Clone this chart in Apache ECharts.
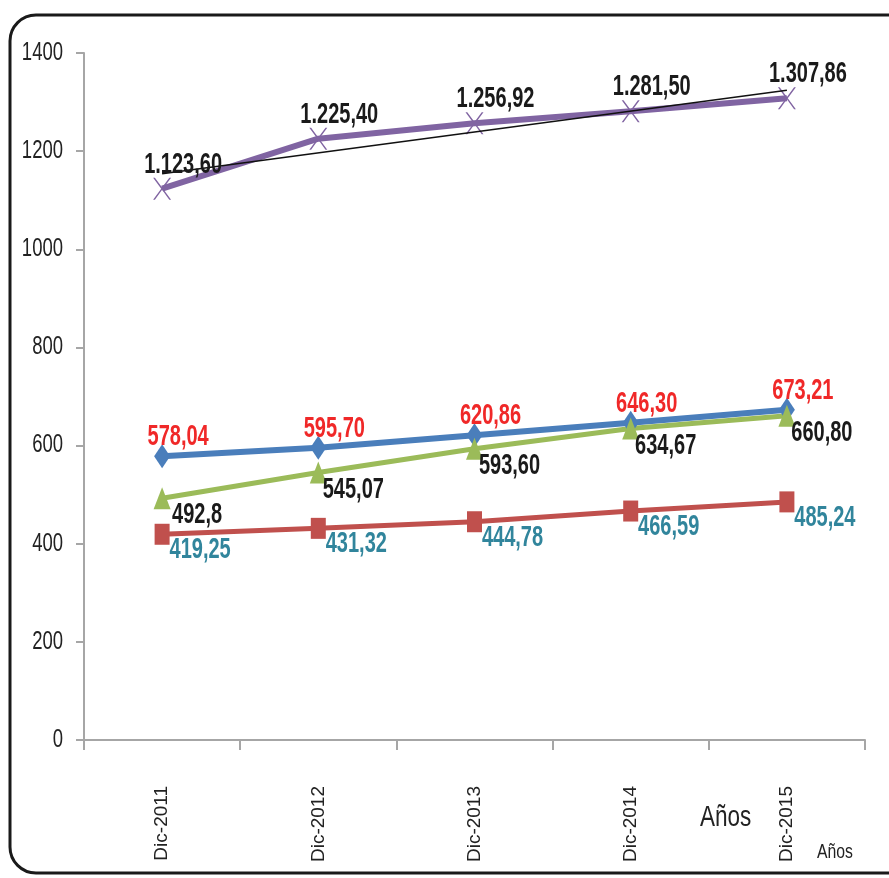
<!DOCTYPE html>
<html>
<head>
<meta charset="utf-8">
<script src="https://cdn.jsdelivr.net/npm/echarts@6/dist/echarts.min.js"></script>
<style>
  html, body { margin: 0; padding: 0; background: #fff; }
  #chart { width: 889px; height: 878px; }
</style>
</head>
<body>
<div id="chart"></div>
<script>
var categories = ['Dic-2011', 'Dic-2012', 'Dic-2013', 'Dic-2014', 'Dic-2015'];
var yTicks = [0, 200, 400, 600, 800, 1000, 1200, 1400];

// valores
var purpleValues = [1123.60, 1225.40, 1256.92, 1281.50, 1307.86];
var blueValues = [578.04, 595.70, 620.86, 646.30, 673.21];
var greenValues = [492.8, 545.07, 593.60, 634.67, 660.80];
var redValues = [419.25, 431.32, 444.78, 466.59, 485.24];
// extremos de la linea de tendencia
var trendValues = [1154, null, null, null, 1324];

var purpleLabels = ['1.123,60', '1.225,40', '1.256,92', '1.281,50', '1.307,86'];
var blueLabels = ['578,04', '595,70', '620,86', '646,30', '673,21'];
var greenLabels = ['492,8', '545,07', '593,60', '634,67', '660,80'];
var redLabels = ['419,25', '431,32', '444,78', '466,59', '485,24'];

var sans = "'Liberation Sans', Arial, sans-serif";
var xPath = 'path://M0,0 L2,0 L10,9 L18,0 L20,0 L11,10 L20,20 L18,20 L10,11 L2,20 L0,20 L9,10 Z';

function toPairs(values) {
  return values.map(function (v, i) { return [i, v]; });
}

// etiquetas de datos con letra estrecha (escalada en x)
function labelSeries(values, texts, color, dx, dy) {
  return {
    type: 'custom',
    data: toPairs(values),
    z: 10,
    silent: true,
    renderItem: function (params, api) {
      var p = api.coord([api.value(0), api.value(1)]);
      return {
        type: 'text',
        x: p[0] + dx,
        y: p[1] + dy,
        scaleX: 0.69,
        style: {
          text: texts[params.dataIndex],
          fill: color,
          font: 'bold 29px ' + sans,
          align: 'center',
          verticalAlign: 'middle'
        }
      };
    }
  };
}

var chart = echarts.init(document.getElementById('chart'));
chart.setOption({
  animation: false,
  grid: { left: 84, right: 24, top: 53, bottom: 138 },
  xAxis: {
    type: 'category',
    data: categories,
    boundaryGap: true,
    axisLine: { lineStyle: { color: '#a6a6a6', width: 2 } },
    axisTick: { show: true, length: 10, lineStyle: { color: '#a6a6a6', width: 2 } },
    axisLabel: {
      rotate: 90,
      margin: 46,
      color: '#222',
      fontFamily: sans,
      fontSize: 19
    }
  },
  yAxis: {
    type: 'value',
    min: yTicks[0],
    max: yTicks[yTicks.length - 1],
    interval: 200,
    axisLine: { show: true, lineStyle: { color: '#a6a6a6', width: 2 } },
    axisTick: { show: true, length: 8, lineStyle: { color: '#a6a6a6', width: 2 } },
    splitLine: { show: false },
    axisLabel: { show: false }
  },
  series: [
    {
      name: 'morado',
      type: 'line',
      data: purpleValues,
      symbol: xPath,
      symbolSize: [18, 22],
      lineStyle: { color: '#8064a2', width: 6 },
      itemStyle: { color: '#8064a2' }
    },
    {
      name: 'tendencia',
      type: 'line',
      data: trendValues,
      connectNulls: true,
      showSymbol: false,
      symbol: 'none',
      lineStyle: { color: '#111', width: 1.5 },
      z: 5
    },
    {
      name: 'azul',
      type: 'line',
      data: blueValues,
      symbol: 'diamond',
      symbolSize: [16, 24],
      lineStyle: { color: '#4a7ebb', width: 6 },
      itemStyle: { color: '#4a7ebb' }
    },
    {
      name: 'verde',
      type: 'line',
      data: greenValues,
      symbol: 'triangle',
      symbolSize: [17, 22],
      lineStyle: { color: '#9bbb59', width: 5 },
      itemStyle: { color: '#9bbb59' }
    },
    {
      name: 'rojo',
      type: 'line',
      data: redValues,
      symbol: 'rect',
      symbolSize: [15, 21],
      lineStyle: { color: '#c0504d', width: 5 },
      itemStyle: { color: '#c0504d' }
    },
    labelSeries(purpleValues, purpleLabels, '#1a1a1a', 21, -24),
    labelSeries(blueValues, blueLabels, '#f02828', 16, -19),
    labelSeries(greenValues, greenLabels, '#1a1a1a', 35, 17),
    labelSeries(redValues, redLabels, '#31859c', 38, 16),
    {
      // etiquetas del eje y (letra estrecha)
      type: 'custom',
      data: yTicks.map(function (v) { return [0, v]; }),
      silent: true,
      clip: false,
      renderItem: function (params, api) {
        var p = api.coord([0, api.value(1)]);
        return {
          type: 'text',
          x: params.coordSys.x - 21,
          y: p[1],
          scaleX: 0.74,
          style: {
            text: String(api.value(1)),
            fill: '#222',
            font: '25px ' + sans,
            align: 'right',
            verticalAlign: 'middle'
          }
        };
      }
    }
  ],
  graphic: [
    {
      type: 'rect',
      shape: { x: 10, y: 15, width: 920, height: 858, r: 26 },
      style: { fill: 'none', stroke: '#1a1a1a', lineWidth: 3 },
      silent: true,
      z: 100
    },
    {
      type: 'text',
      x: 700,
      y: 818,
      scaleX: 0.75,
      style: {
        text: 'Años', fill: '#222', verticalAlign: 'middle',
        font: '30px ' + sans
      }
    },
    {
      type: 'text',
      x: 817,
      y: 852,
      scaleX: 0.75,
      style: {
        text: 'Años', fill: '#222', verticalAlign: 'middle',
        font: '21px ' + sans
      }
    }
  ]
});
</script>
</body>
</html>
